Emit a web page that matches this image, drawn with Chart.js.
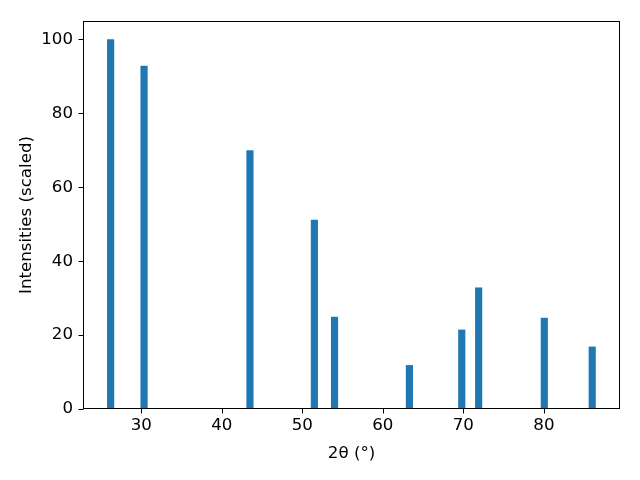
<!DOCTYPE html>
<html>
<head>
<meta charset="utf-8">
<script src="https://cdn.jsdelivr.net/npm/chart.js@4/dist/chart.umd.min.js"></script>
<style>
html,body{margin:0;padding:0;background:#fff;}
#wrap{width:640px;height:480px;}
</style>
</head>
<body>
<div id="wrap"><canvas id="c" width="640" height="480"></canvas></div>
<script>
const twoTheta = [26.2, 30.35, 43.5, 51.5, 54.0, 63.3, 69.8, 71.9, 80.05, 86.0];
const intensities = [100, 92.8, 69.9, 51.1, 24.9, 11.8, 21.4, 32.8, 24.6, 16.8];
const xTicks = [30, 40, 50, 60, 70, 80];
const yTicks = [0, 20, 40, 60, 80, 100];

const FONT = "'DejaVu Sans', sans-serif";
const frame = {
  id: 'frame',
  afterDatasetsDraw(chart) {
    const a = chart.chartArea, ctx = chart.ctx;
    ctx.save();
    ctx.strokeStyle = '#000';
    ctx.lineWidth = 1;
    const L = Math.round(a.left) + 0.5, T = Math.round(a.top) + 0.5;
    const R = Math.round(a.right) - 0.5, B = Math.round(a.bottom) - 0.5;
    ctx.strokeRect(L, T, R - L, B - T);
    ctx.beginPath();
    const xs = chart.scales.x;
    xTicks.forEach(v => {
      const px = Math.round(xs.getPixelForValue(v)) + 0.5;
      ctx.moveTo(px, B); ctx.lineTo(px, B + 5);
    });
    const ys = chart.scales.y;
    yTicks.forEach(v => {
      const py = Math.round(ys.getPixelForValue(v)) + 0.5;
      ctx.moveTo(L - 5, py); ctx.lineTo(L, py);
    });
    ctx.stroke();
    ctx.restore();
  }
};

new Chart(document.getElementById('c'), {
  type: 'bar',
  data: {
    datasets: [{
      data: twoTheta.map((x, i) => ({x: x, y: intensities[i]})),
      backgroundColor: '#1f77b4',
      borderWidth: 0,
      barThickness: 6.5
    }]
  },
  options: {
    responsive: false,
    animation: false,
    devicePixelRatio: 1,
    layout: {padding: {left: 0, top: 21, right: 20, bottom: 0}},
    plugins: {legend: {display: false}, tooltip: {enabled: false}},
    scales: {
      x: {
        type: 'linear',
        min: 22.77,
        max: 89.45,
        offset: false,
        afterBuildTicks: s => { s.ticks = xTicks.map(v => ({value: v})); },
        afterFit: s => { s.height = 71; },
        grid: {offset: false, drawOnChartArea: false, drawTicks: true, tickLength: 5, color: 'rgba(0,0,0,0)'},
        border: {display: false},
        ticks: {color: '#000', font: {family: FONT, size: 16.67}, padding: 2, maxRotation: 0},
        title: {display: true, text: '2θ (°)', color: '#000', font: {family: FONT, size: 16.67}, padding: {top: 0, bottom: 16}}
      },
      y: {
        min: 0,
        max: 105,
        afterBuildTicks: s => { s.ticks = yTicks.map(v => ({value: v})); },
        afterFit: s => { s.width = 83; },
        grid: {offset: false, drawOnChartArea: false, drawTicks: true, tickLength: 5, color: 'rgba(0,0,0,0)'},
        border: {display: false},
        ticks: {color: '#000', font: {family: FONT, size: 16.67}, padding: 5},
        title: {display: true, text: 'Intensities (scaled)', color: '#000', font: {family: FONT, size: 16.67}, padding: {top: 17, bottom: 0}}
      }
    }
  },
  plugins: [frame]
});
</script>
</body>
</html>
